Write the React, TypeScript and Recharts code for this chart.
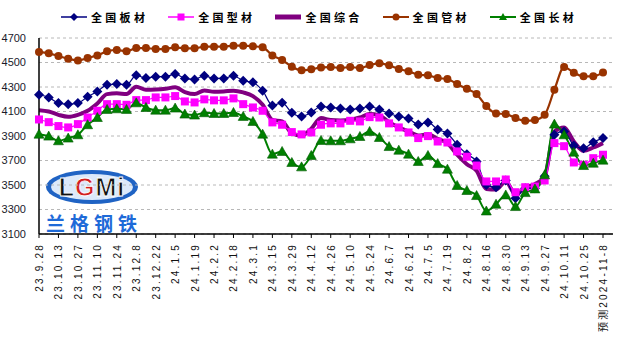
import { LineChart, Line, XAxis, YAxis, CartesianGrid } from 'recharts';

// weekly dates, labels shown every other week
const dates = [
  '23.9.28', '23.10.6', '23.10.13', '23.10.20', '23.10.27', '23.11.3', '23.11.10', '23.11.17',
  '23.11.24', '23.12.1', '23.12.8', '23.12.15', '23.12.22', '23.12.29', '24.1.5', '24.1.12',
  '24.1.19', '24.1.26', '24.2.2', '24.2.8', '24.2.18', '24.2.23', '24.3.1', '24.3.8',
  '24.3.15', '24.3.22', '24.3.29', '24.4.3', '24.4.12', '24.4.19', '24.4.26', '24.4.30',
  '24.5.10', '24.5.17', '24.5.24', '24.5.31', '24.6.7', '24.6.14', '24.6.21', '24.6.28',
  '24.7.5', '24.7.12', '24.7.19', '24.7.26', '24.8.2', '24.8.9', '24.8.16', '24.8.23',
  '24.8.30', '24.9.6', '24.9.13', '24.9.20', '24.9.27', '24.9.30', '24.10.11', '24.10.18',
  '24.10.25', '24.11.1', '预测2024-11-8',
];

const banCai = [
  4237, 4215, 4169, 4160, 4169, 4220, 4264, 4318, 4324, 4318, 4395, 4373, 4384, 4384, 4406, 4370,
  4362, 4392, 4370, 4370, 4392, 4351, 4338, 4270, 4150, 4171, 4090, 4060, 4092, 4141, 4133, 4125,
  4117, 4125, 4141, 4117, 4084, 4060, 4043, 3994, 4011, 3953, 3921, 3828, 3752, 3692, 3501, 3482,
  3537, 3392, 3474, 3474, 3572, 3910, 3937, 3823, 3801, 3850, 3883,
];

const xingCai = [
  4035, 4013, 3981, 3970, 3997, 4051, 4106, 4160, 4160, 4155, 4193, 4193, 4215, 4215, 4226, 4182,
  4174, 4199, 4191, 4191, 4207, 4160, 4133, 4106, 4011, 3992, 3932, 3913, 3929, 3992, 4003, 4003,
  4024, 4019, 4054, 4051, 4003, 3970, 3929, 3883, 3899, 3855, 3847, 3774, 3731, 3659, 3529, 3529,
  3545, 3441, 3482, 3487, 3537, 3842, 3817, 3684, 3665, 3719, 3747,
];

const zongHe = [
  4111, 4100, 4073, 4057, 4073, 4106, 4166, 4242, 4248, 4242, 4302, 4278, 4280, 4286, 4297, 4259,
  4242, 4272, 4261, 4264, 4270, 4256, 4226, 4155, 4032, 4019, 3923, 3904, 3959, 4046, 4030, 4027,
  4032, 4051, 4079, 4068, 4013, 3970, 3937, 3904, 3915, 3877, 3842, 3747, 3670, 3616, 3468, 3463,
  3528, 3425, 3479, 3507, 3569, 3937, 3970, 3855, 3779, 3806, 3842,
];

const guanCai = [
  4586, 4575, 4553, 4531, 4517, 4537, 4558, 4591, 4602, 4591, 4618, 4618, 4610, 4610, 4624, 4616,
  4616, 4629, 4629, 4629, 4637, 4637, 4632, 4624, 4558, 4520, 4466, 4436, 4444, 4460, 4463, 4455,
  4463, 4455, 4479, 4493, 4477, 4447, 4428, 4400, 4395, 4373, 4365, 4324, 4285, 4242, 4144, 4084,
  4079, 4046, 4024, 4030, 4073, 4278, 4463, 4417, 4387, 4387, 4419,
];

const changCai = [
  3915, 3899, 3861, 3883, 3910, 3992, 4051, 4117, 4122, 4117, 4171, 4133, 4111, 4111, 4128, 4079,
  4071, 4090, 4084, 4084, 4092, 4060, 4019, 3915, 3752, 3774, 3684, 3648, 3741, 3864, 3861, 3861,
  3877, 3896, 3937, 3888, 3814, 3784, 3752, 3692, 3741, 3675, 3629, 3496, 3455, 3414, 3288, 3343,
  3419, 3324, 3438, 3468, 3583, 3997, 3910, 3768, 3659, 3678, 3703,
];

const yTicks = [3100, 3300, 3500, 3700, 3900, 4100, 4300, 4500, 4700];

const chartData = dates.map((d, i) => ({
  date: d,
  ban: banCai[i],
  xing: xingCai[i],
  zong: zongHe[i],
  guan: guanCai[i],
  chang: changCai[i],
}));

const diamond = (props: any) => {
  const { cx, cy, index } = props;
  return (
    <polygon key={`d-${index}`} points={`${cx},${cy - 5} ${cx + 5},${cy} ${cx},${cy + 5} ${cx - 5},${cy}`} fill="#000080" />
  );
};

const square = (props: any) => {
  const { cx, cy, index } = props;
  return <rect key={`s-${index}`} x={cx - 4} y={cy - 4} width={8} height={8} fill="#FF00FF" />;
};

const roundDot = (props: any) => {
  const { cx, cy, index } = props;
  return <circle key={`c-${index}`} cx={cx} cy={cy} r={4} fill="#993300" />;
};

const triangle = (props: any) => {
  const { cx, cy, index } = props;
  return (
    <polygon
      key={`t-${index}`}
      points={`${cx},${cy - 5} ${cx + 5},${cy + 4} ${cx - 5},${cy + 4}`}
      fill="#008000"
      stroke="#005a00"
      strokeWidth={0.6}
    />
  );
};

const XTick = (props: any) => {
  const { x, y, payload } = props;
  return (
    <text
      transform={`translate(${x + 4},${y + 3}) rotate(-90)`}
      textAnchor="end"
      fontSize={10}
      letterSpacing={2.2}
      fill="#111"
      fontFamily="'Liberation Sans', Arial, 'Noto Sans CJK SC'"
    >
      {payload.value}
    </text>
  );
};

const legendItems = [
  { name: '全国板材', color: '#000080', mark: 'diamond', w: 1.5 },
  { name: '全国型材', color: '#FF00FF', mark: 'square', w: 1.5 },
  { name: '全国综合', color: '#800080', mark: 'none', w: 5 },
  { name: '全国管材', color: '#993300', mark: 'circle', w: 2 },
  { name: '全国长材', color: '#008000', mark: 'triangle', w: 2 },
];

function LegendMark({ color, mark, w }: { color: string; mark: string; w: number }) {
  return (
    <svg width={26} height={12} style={{ display: 'block' }}>
      <line x1={0} y1={6} x2={26} y2={6} stroke={color} strokeWidth={w} />
      {mark === 'diamond' && <polygon points="13,2 17,6 13,10 9,6" fill={color} />}
      {mark === 'square' && <rect x={9.5} y={2.5} width={7} height={7} fill={color} />}
      {mark === 'circle' && <circle cx={13} cy={6} r={3.5} fill={color} />}
      {mark === 'triangle' && <polygon points="13,2 17,9 9,9" fill={color} />}
    </svg>
  );
}

function Logo() {
  return (
    <svg width={100} height={68} style={{ position: 'absolute', left: 44, top: 168 }}>
      <ellipse cx={48} cy={19} rx={46} ry={17} fill="#1f63c4" />
      <ellipse cx={48} cy={19} rx={41} ry={13} fill="#dce9fa" />
      <text
        x={48}
        y={28}
        textAnchor="middle"
        fontSize={25}
        fontWeight={700}
        letterSpacing={1}
        fontFamily="'Liberation Sans', Arial"
        fill="#111"
        stroke="#fff"
        strokeWidth={0.8}
      >
        L<tspan fill="#d21f1f">G</tspan>Mi
      </text>
      <text
        x={2}
        y={63}
        fontSize={19}
        fontWeight={700}
        letterSpacing={5}
        fontFamily="'Noto Sans CJK SC'"
        fill="#1e6ad8"
      >
        兰格钢铁
      </text>
    </svg>
  );
}

export default function App() {
  return (
    <div style={{ position: 'absolute', left: 0, top: 0, width: 619, height: 339, background: '#fff' }}>
      <Logo />
      <div
        style={{
          position: 'absolute',
          left: 61,
          top: 11,
          display: 'flex',
          gap: 20,
          alignItems: 'center',
        }}
      >
        {legendItems.map((it) => (
          <div key={it.name} style={{ display: 'flex', alignItems: 'center', gap: 4 }}>
            <LegendMark color={it.color} mark={it.mark} w={it.w} />
            <span
              style={{
                fontFamily: "'Noto Sans CJK SC'",
                fontWeight: 700,
                fontSize: 11,
                letterSpacing: 3.3,
                lineHeight: '12px',
                color: '#000',
              }}
            >
              {it.name}
            </span>
          </div>
        ))}
      </div>
      <div style={{ position: 'absolute', left: 0, top: 0 }}>
        <LineChart width={619} height={339} data={chartData} margin={{ top: 38, right: 6, bottom: 0, left: 0 }}>
          <CartesianGrid vertical={false} stroke="#b8b8b8" strokeDasharray="3 3" />
          <XAxis
            dataKey="date"
            interval={1}
            height={105}
            padding={{ left: 0, right: 10 }}
            axisLine={{ stroke: '#000', strokeWidth: 1.5 }}
            tickLine={{ stroke: '#000' }}
            tickSize={4}
            tick={<XTick />}
          />
          <YAxis
            width={39}
            domain={[3100, 4700]}
            ticks={yTicks}
            axisLine={{ stroke: '#000', strokeWidth: 1.5 }}
            tickLine={false}
            tickMargin={7}
            tick={{ fontSize: 11, fill: '#1a1a2a', fontFamily: "'Liberation Sans', Arial" }}
          />
          <Line type="monotone" dataKey="zong" stroke="#800080" strokeWidth={4} dot={false} isAnimationActive={false} />
          <Line type="monotone" dataKey="ban" stroke="#000080" strokeWidth={1.2} dot={diamond} isAnimationActive={false} />
          <Line type="monotone" dataKey="xing" stroke="#FF00FF" strokeWidth={1.2} dot={square} isAnimationActive={false} />
          <Line type="monotone" dataKey="guan" stroke="#993300" strokeWidth={2.2} dot={roundDot} isAnimationActive={false} />
          <Line type="monotone" dataKey="chang" stroke="#008000" strokeWidth={2} dot={triangle} isAnimationActive={false} />
        </LineChart>
      </div>
    </div>
  );
}
